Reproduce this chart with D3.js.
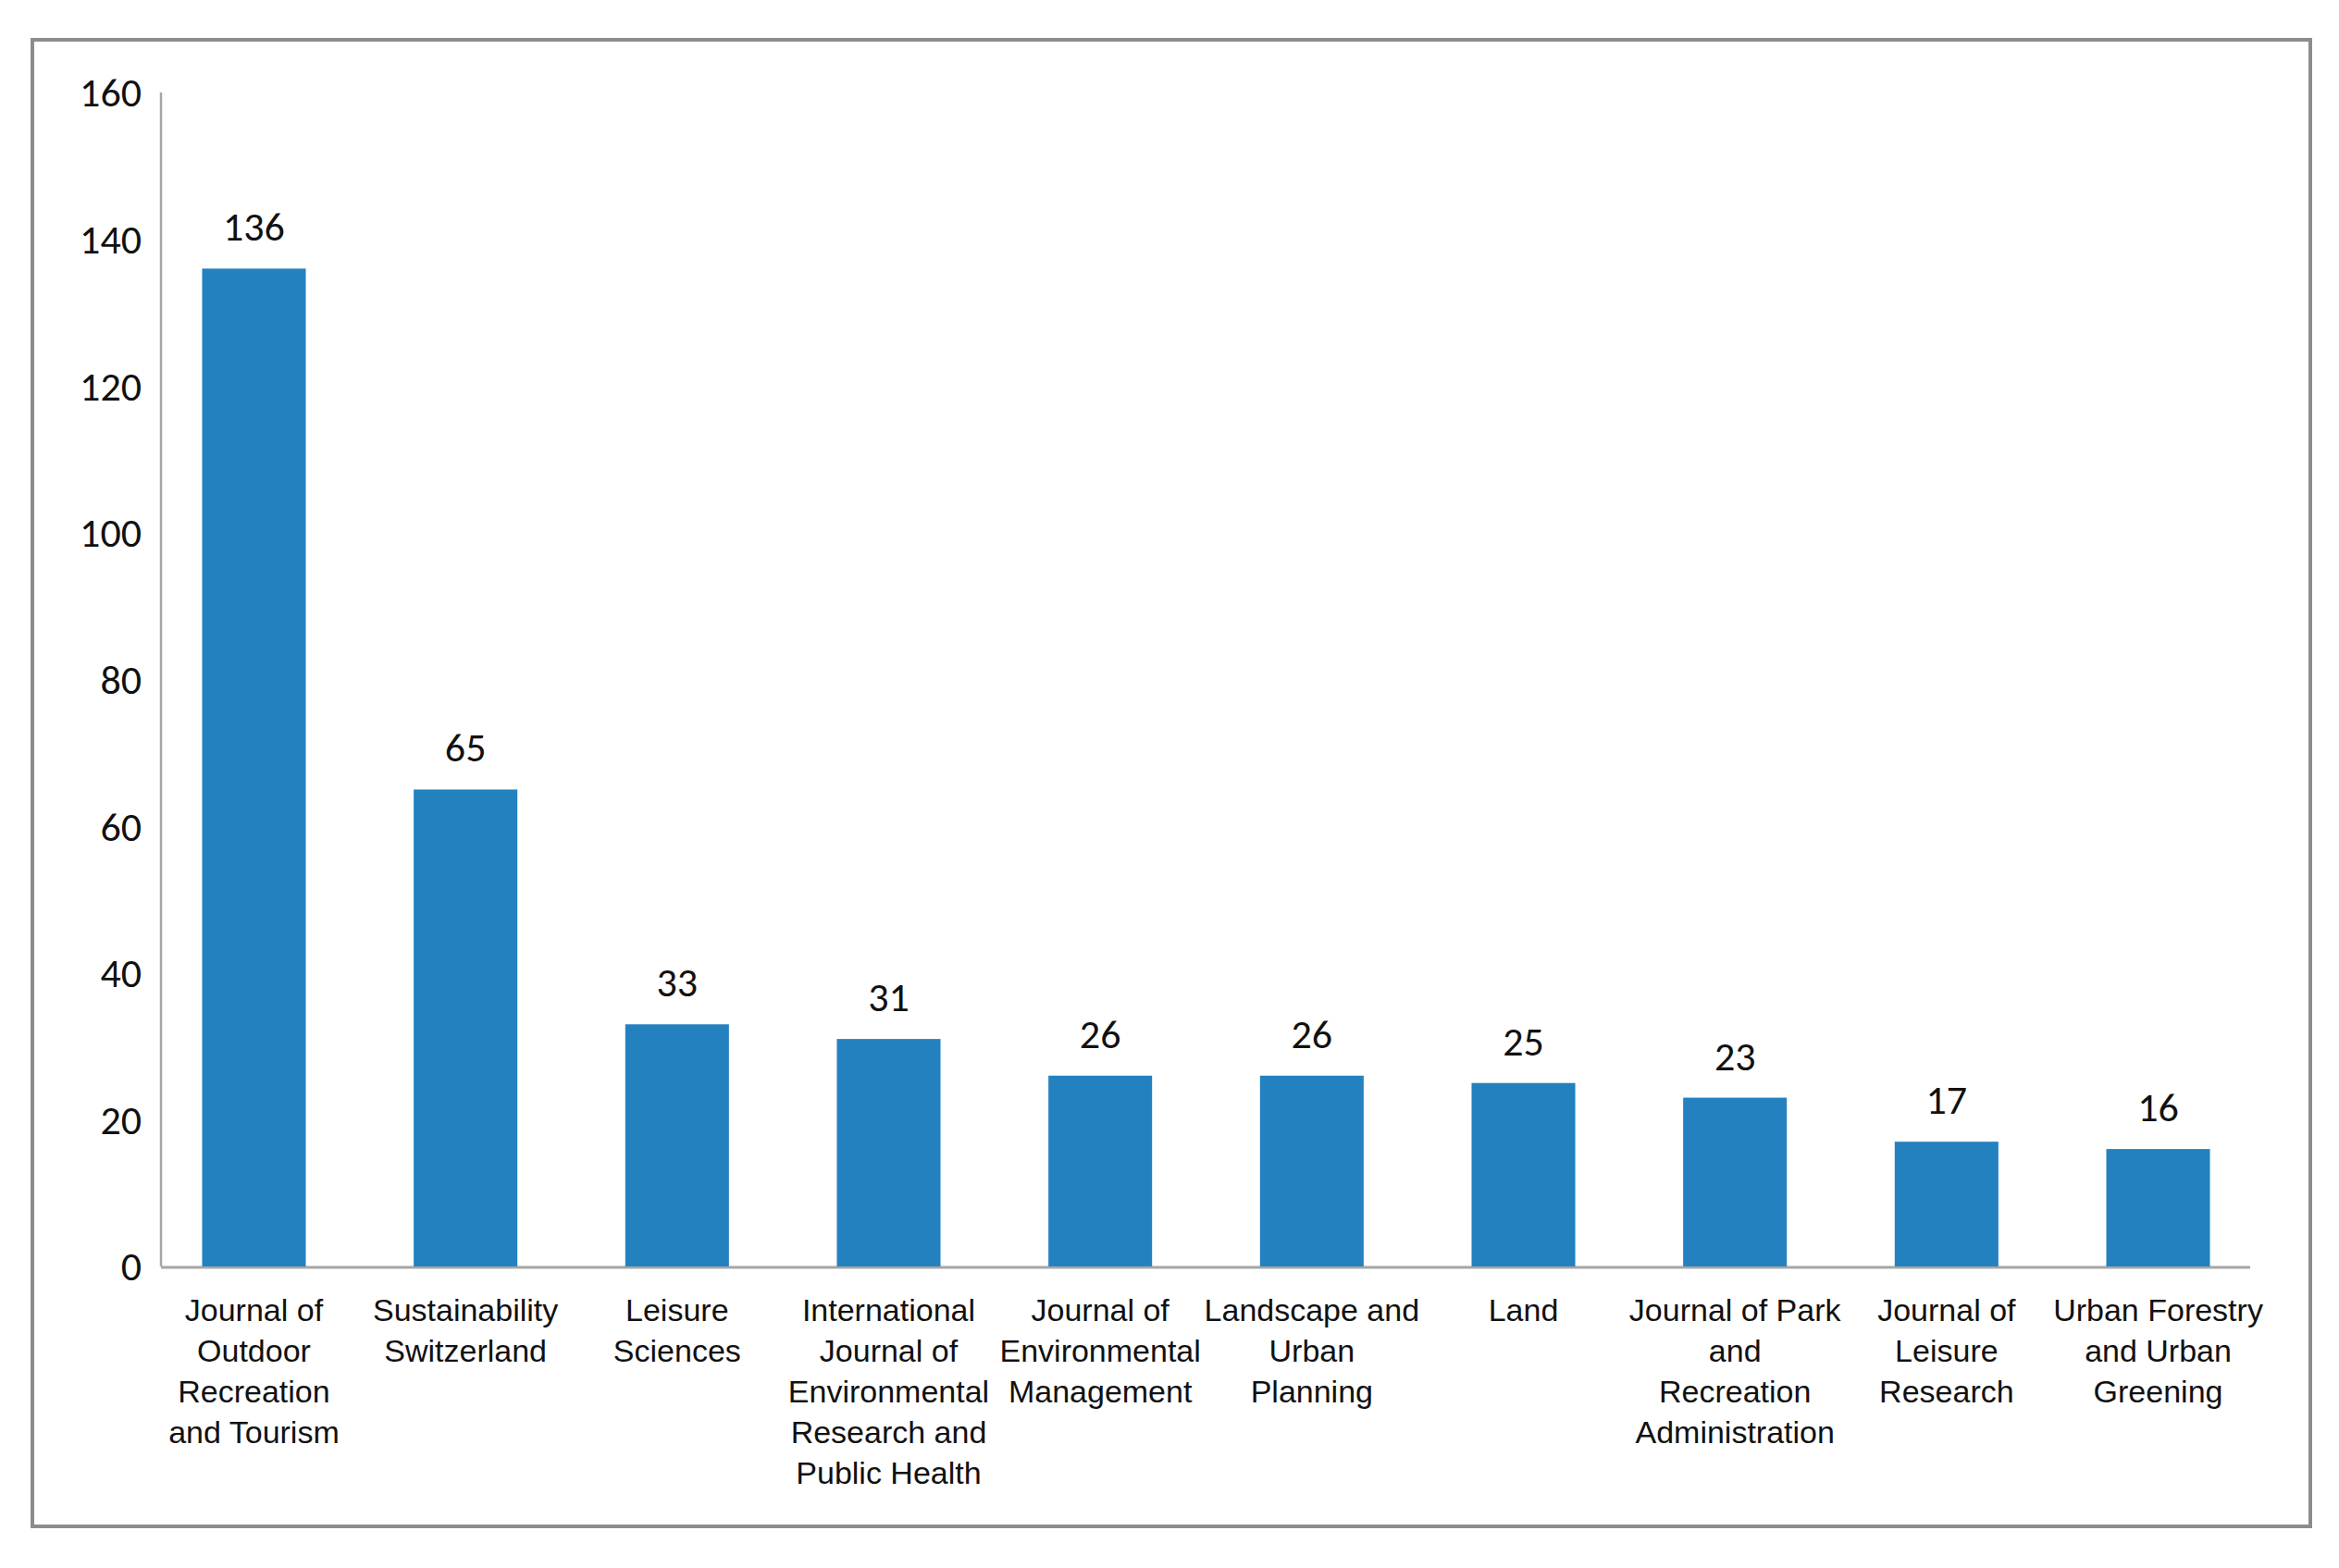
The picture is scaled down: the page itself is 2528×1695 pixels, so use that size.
<!DOCTYPE html>
<html><head><meta charset="utf-8">
<script src="https://cdn.jsdelivr.net/npm/d3@7"></script>
<style>body{margin:0;background:#fff}</style></head>
<body><svg id="c" width="2528" height="1695"></svg>
<script>
const categories = [
 ["Journal of","Outdoor","Recreation","and Tourism"],
 ["Sustainability","Switzerland"],
 ["Leisure","Sciences"],
 ["International","Journal of","Environmental","Research and","Public Health"],
 ["Journal of","Environmental","Management"],
 ["Landscape and","Urban","Planning"],
 ["Land"],
 ["Journal of Park","and","Recreation","Administration"],
 ["Journal of","Leisure","Research"],
 ["Urban Forestry","and Urban","Greening"]
];
const values = [136,65,33,31,26,26,25,23,17,16];
const yTicks = [0,20,40,60,80,100,120,140,160];

const svg = d3.select("#c");
svg.append("rect").attr("x",35).attr("y",43).attr("width",2462).attr("height",1607)
  .attr("fill","none").attr("stroke","#8c8c8c").attr("stroke-width",4);
const x = d3.scaleBand().domain(d3.range(values.length)).range([175,2432]).paddingInner(0.51).paddingOuter(0.19);
const y = d3.scaleLinear().domain([0,160]).range([1369,100]);
const font = "'Liberation Sans Narrow','Liberation Sans',Arial,sans-serif";

svg.append("line").attr("x1",174).attr("x2",174).attr("y1",100).attr("y2",1369).attr("stroke","#a6a6a6").attr("stroke-width",2.5);
svg.append("line").attr("x1",174).attr("x2",2432).attr("y1",1370).attr("y2",1370).attr("stroke","#a6a6a6").attr("stroke-width",3);

svg.selectAll(".yt").data(yTicks).enter().append("text")
  .attr("x",153).attr("y",d=>y(d)).attr("dy","0.35em").attr("text-anchor","end")
  .attr("font-family","Calibri,'Open Sans',sans-serif").attr("font-size",44).attr("fill","#111").text(d=>d);

svg.selectAll(".bar").data(values).enter().append("rect")
  .attr("x",(d,i)=>x(i)).attr("width",x.bandwidth()).attr("y",d=>y(d)).attr("height",d=>y(0)-y(d))
  .attr("fill","#2481c0");

svg.selectAll(".vl").data(values).enter().append("text")
  .attr("x",(d,i)=>x(i)+x.bandwidth()/2).attr("y",d=>y(d)-30).attr("text-anchor","middle")
  .attr("font-family","Calibri,'Open Sans',sans-serif").attr("font-size",44).attr("fill","#111").text(d=>d);

categories.forEach((lines,i)=>{
  const t = svg.append("text").attr("text-anchor","middle").attr("font-family",font)
    .attr("font-size",34).attr("fill","#111");
  lines.forEach((l,j)=>t.append("tspan").attr("x",x(i)+x.bandwidth()/2).attr("y",1428+j*44).text(l));
});
</script></body></html>
